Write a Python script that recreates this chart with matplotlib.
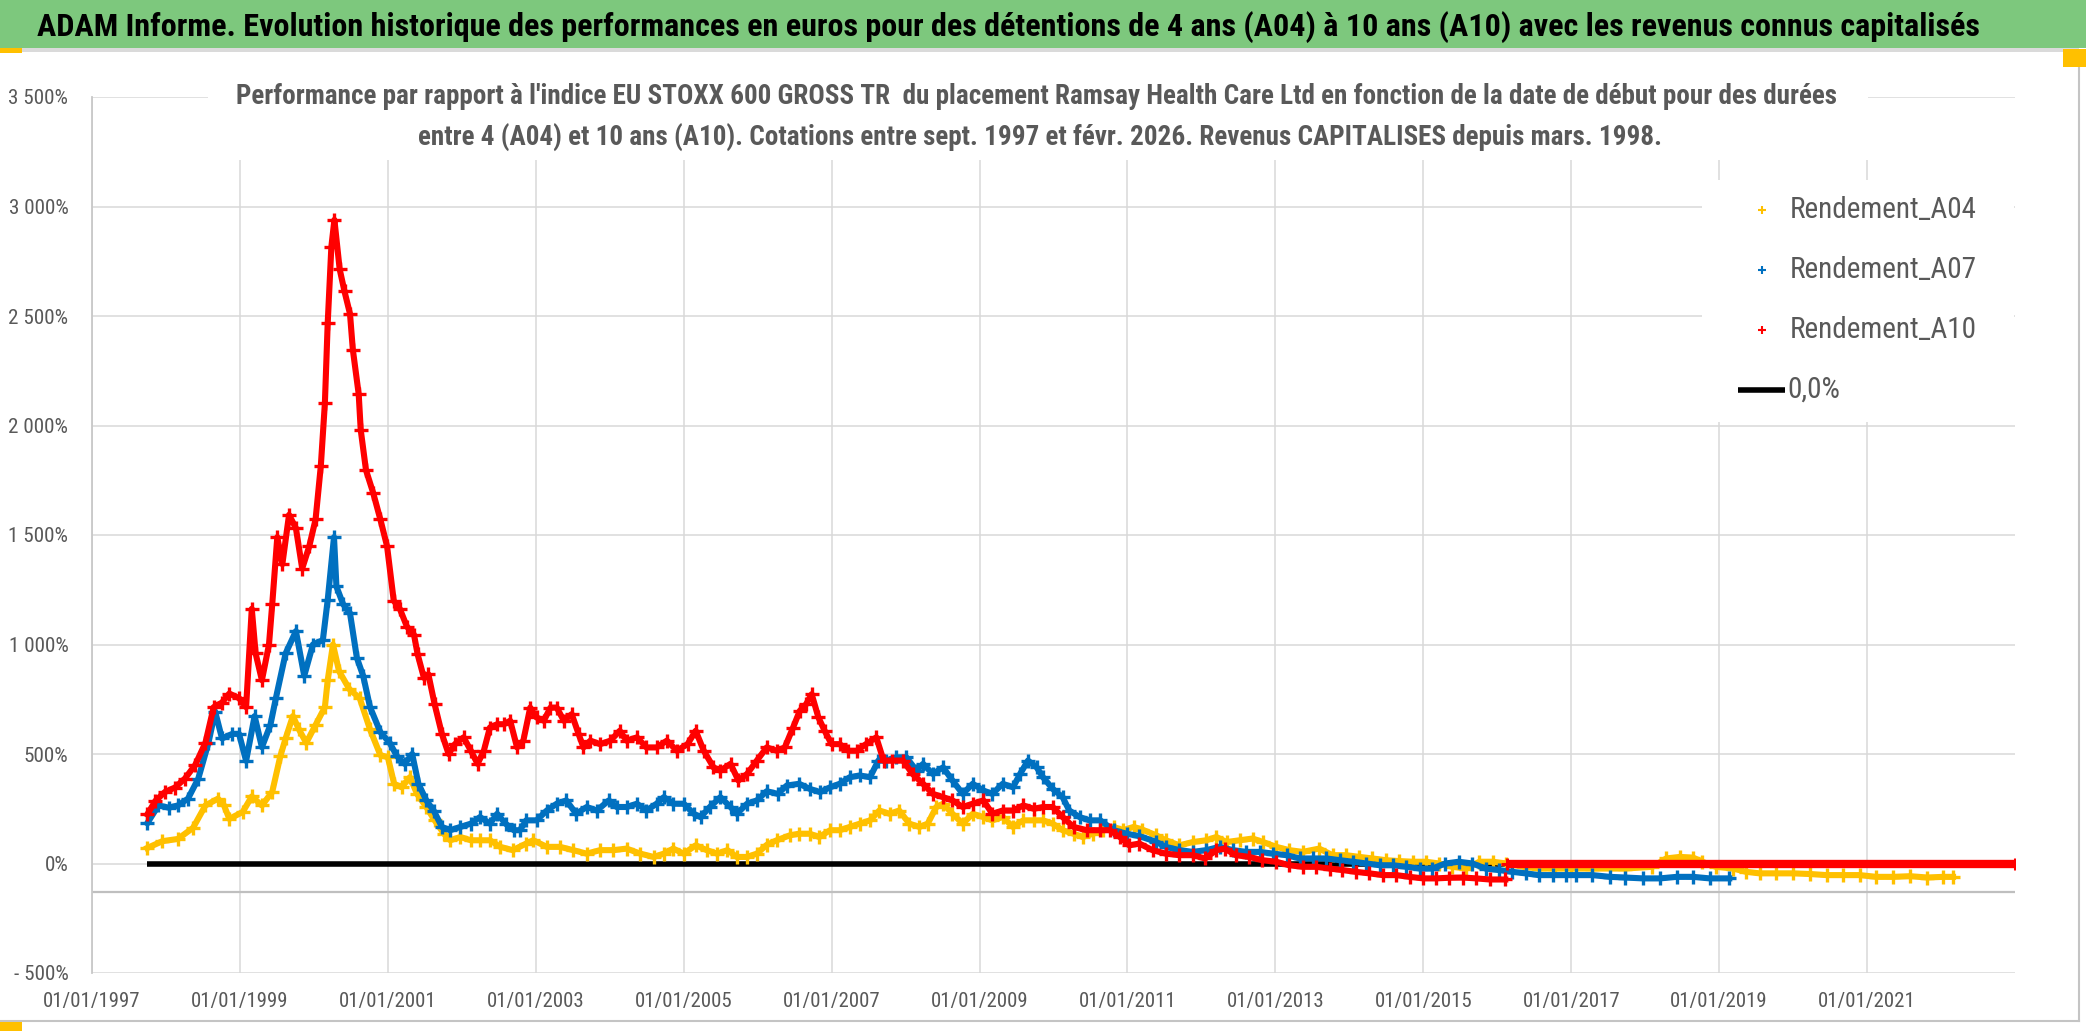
import matplotlib
matplotlib.use("Agg")
import matplotlib.pyplot as plt
from matplotlib.patches import Rectangle
from matplotlib.lines import Line2D
from matplotlib import font_manager
import pandas as pd

# ---------------- data ----------------
a04_dates = ["1997-10-01","1997-12-15","1998-03-01","1998-05-15","1998-07-15","1998-09-15","1998-10-15","1998-11-10",
"1999-01-15","1999-03-01","1999-04-20","1999-06-10","1999-07-20","1999-08-15","1999-09-20","1999-10-20","1999-11-25",
"2000-01-10","2000-02-25","2000-03-10","2000-04-05","2000-05-05","2000-06-25","2000-08-15","2000-10-05","2000-11-25",
"2001-01-01","2001-02-01","2001-03-10","2001-04-20","2001-05-25","2001-07-10","2001-08-20","2001-10-05","2001-11-05","2001-12-25",
"2002-02-15","2002-04-01","2002-05-20","2002-07-10","2002-09-10","2002-11-15","2002-12-20",
"2003-02-25","2003-05-01","2003-07-05","2003-09-10","2003-11-15",
"2004-01-20","2004-03-25","2004-06-01","2004-08-05","2004-09-25","2004-11-10",
"2005-01-01","2005-03-01","2005-04-25","2005-06-15","2005-08-05","2005-09-20","2005-11-10","2005-12-28",
"2006-02-15","2006-04-05","2006-06-10","2006-07-25","2006-09-15","2006-11-01","2006-12-25",
"2007-02-10","2007-04-01","2007-05-20","2007-07-10","2007-08-25","2007-10-15","2007-12-01",
"2008-01-20","2008-03-10","2008-04-20","2008-06-01","2008-07-05","2008-08-20","2008-10-10","2008-11-28",
"2009-01-20","2009-03-05","2009-04-25","2009-06-15","2009-08-05","2009-09-25","2009-11-10","2009-12-28",
"2010-02-15","2010-04-10","2010-05-25","2010-07-15","2010-09-01","2010-10-25","2010-12-10",
"2011-02-01","2011-03-15","2011-05-20","2011-07-10","2011-09-15","2011-11-20",
"2012-01-25","2012-03-15","2012-05-05","2012-07-10","2012-09-10","2012-11-01",
"2013-01-05","2013-03-10","2013-05-15","2013-08-05","2013-10-10","2013-12-15",
"2014-02-20","2014-04-25","2014-07-01","2014-09-05","2014-11-10",
"2015-01-15","2015-03-20","2015-05-25","2015-08-01","2015-10-05","2015-12-10",
"2016-02-15","2016-05-10","2016-07-25","2016-10-10",
"2017-01-01","2017-04-15","2017-09-25",
"2018-02-05","2018-04-15","2018-06-20","2018-08-25","2018-10-10","2018-12-15",
"2019-03-10","2019-05-15","2019-07-20","2019-10-10",
"2020-01-01","2020-03-25","2020-06-15","2020-09-05","2020-11-25",
"2021-02-15","2021-05-10","2021-08-01","2021-10-25",
"2022-01-10","2022-03-01"]
a04_values = [71,102,112,163,265,296,265,204,
235,306,265,327,490,571,673,612,551,
633,714,837,1000,878,796,755,612,495,
485,364,348,394,318,258,197,136,106,121,
106,106,106,76,61,91,106,
76,76,61,45,61,
61,68,45,30,45,68,
45,83,61,45,61,30,30,45,
85,106,129,136,136,121,152,
152,167,182,197,242,227,242,
182,167,182,258,273,227,182,227,
212,197,212,167,197,197,197,182,
152,136,121,136,152,167,152,
167,155,130,106,83,98,
106,121,98,106,114,98,
76,61,53,68,38,38,
30,23,15,11,8,
8,0,-15,-23,8,8,
0,-15,-23,-23,
-23,-23,-23,
-15,23,30,27,8,-15,
-23,-38,-45,-45,
-45,-48,-53,-53,-53,
-61,-61,-58,-64,
-61,-61]

a07_dates = ["1997-10-01","1997-11-25","1998-01-15","1998-03-01","1998-04-20","1998-06-10","1998-07-30","1998-09-01",
"1998-10-05","1998-11-25","1998-12-28","1999-02-01","1999-03-15","1999-04-20","1999-06-01","1999-06-28","1999-08-15",
"1999-10-05","1999-11-15","1999-12-28","2000-02-15","2000-03-10","2000-04-10","2000-04-22","2000-05-25","2000-06-28",
"2000-08-01","2000-09-01","2000-10-05","2000-11-25","2001-01-10","2001-02-15","2001-03-25","2001-05-01","2001-06-01",
"2001-07-10","2001-08-15","2001-09-25","2001-11-05","2001-12-25",
"2002-02-15","2002-04-01","2002-05-20","2002-06-25","2002-08-05","2002-09-15","2002-10-15","2002-11-15",
"2003-01-05","2003-02-25","2003-04-15","2003-06-01","2003-07-20","2003-09-10","2003-10-30","2003-12-28",
"2004-02-05","2004-03-25","2004-05-15","2004-07-01","2004-08-20","2004-09-25","2004-11-10",
"2005-01-01","2005-02-20","2005-03-25","2005-05-10","2005-07-01","2005-08-20","2005-09-20","2005-11-10","2005-12-28",
"2006-02-15","2006-04-10","2006-05-25","2006-07-25","2006-09-15","2006-11-05","2006-12-25",
"2007-02-10","2007-04-01","2007-05-20","2007-07-10","2007-08-20","2007-09-28","2007-11-15",
"2008-01-05","2008-02-25","2008-03-28","2008-05-15","2008-07-05","2008-08-20","2008-10-10","2008-11-28",
"2009-01-20","2009-03-05","2009-04-25","2009-06-15","2009-07-20","2009-08-28","2009-10-10","2009-11-10","2009-12-28",
"2010-02-15","2010-03-20","2010-05-10","2010-06-28","2010-08-20","2010-10-25","2010-12-28",
"2011-03-01","2011-05-20","2011-07-10","2011-09-15","2011-11-20",
"2012-01-25","2012-04-01","2012-06-05","2012-08-10","2012-10-15","2012-12-20",
"2013-02-25","2013-05-01","2013-07-05","2013-09-10","2013-11-15",
"2014-01-20","2014-03-25","2014-06-01","2014-08-05","2014-10-10","2014-12-15",
"2015-02-15","2015-04-20","2015-06-25","2015-09-01","2015-11-05",
"2016-01-10","2016-03-15","2016-05-20","2016-07-25","2016-10-01","2016-12-05",
"2017-01-25","2017-04-15","2017-07-10","2017-09-25","2017-12-20",
"2018-03-15","2018-06-05","2018-08-25","2018-11-15","2019-02-20"]
a07_values = [184,265,255,265,296,388,551,694,
571,592,592,469,673,531,633,755,959,
1061,857,1000,1020,1204,1490,1265,1184,1143,
939,857,714,600,551,490,455,500,364,
288,242,167,152,167,
182,212,182,227,182,152,152,197,
197,242,273,288,227,258,242,288,
258,258,273,242,273,303,273,
273,227,212,258,303,258,227,273,288,
330,318,356,364,341,326,348,
364,394,402,394,470,470,485,
485,424,455,409,439,379,318,364,
333,318,364,348,409,470,439,394,341,
303,242,212,197,197,152,136,
125,100,76,61,53,
61,76,61,53,53,45,
38,23,23,23,15,
8,0,-8,-8,-15,-23,
-23,0,8,0,-23,
-30,-38,-45,-53,-53,-53,
-53,-53,-61,-64,-68,
-68,-61,-61,-68,-68]

a10_dates = ["1997-10-01","1997-11-10","1997-12-28","1998-02-15","1998-04-05","1998-05-25","1998-07-15","1998-08-25",
"1998-10-05","1998-11-10","1998-12-28","1999-02-01","1999-03-01","1999-03-20","1999-04-20","1999-05-25","1999-06-10",
"1999-07-05","1999-07-30","1999-09-01","1999-10-05","1999-11-05","1999-12-10","2000-01-10","2000-02-05","2000-02-25",
"2000-03-10","2000-03-28","2000-04-12","2000-05-08","2000-06-01","2000-06-28","2000-07-12","2000-08-10","2000-08-20",
"2000-09-15","2000-10-20","2000-11-25","2000-12-28","2001-01-30","2001-03-01","2001-04-05","2001-05-10","2001-05-28",
"2001-06-28","2001-07-20","2001-08-20","2001-09-25","2001-10-28","2001-11-28",
"2002-01-10","2002-02-15","2002-03-20","2002-04-20","2002-05-20","2002-06-25","2002-07-28","2002-08-28","2002-10-01",
"2002-11-01","2002-12-05","2003-01-05","2003-02-10","2003-03-15","2003-04-15","2003-05-20","2003-06-28","2003-08-01",
"2003-08-25","2003-09-28","2003-11-15","2004-01-05","2004-02-20","2004-03-25","2004-05-15","2004-07-01","2004-08-20",
"2004-10-10","2004-11-28","2005-01-20","2005-03-01","2005-04-10","2005-05-28","2005-07-01","2005-08-20","2005-09-28",
"2005-11-10","2005-12-28","2006-02-15","2006-04-05","2006-05-15","2006-06-25","2006-07-28","2006-08-28","2006-09-25",
"2006-10-28","2006-11-28","2007-01-01","2007-02-10","2007-03-25","2007-05-05","2007-06-20","2007-08-10","2007-09-15",
"2007-10-28","2007-12-20","2008-02-05","2008-03-28","2008-05-15","2008-07-05","2008-08-20","2008-10-10","2008-11-28",
"2009-01-20","2009-03-05","2009-04-25","2009-06-15","2009-08-05","2009-09-25","2009-11-10","2009-12-28",
"2010-02-15","2010-04-10","2010-06-15","2010-08-20","2010-10-05","2010-11-25",
"2011-01-10","2011-03-01","2011-05-05","2011-07-10","2011-09-15","2011-11-20",
"2012-01-20","2012-03-15","2012-04-25","2012-06-20","2012-08-25","2012-10-28",
"2013-01-05","2013-03-10","2013-05-15","2013-07-20","2013-09-25","2013-11-28",
"2014-02-01","2014-04-10","2014-06-15","2014-08-20","2014-10-25",
"2015-01-01","2015-03-05","2015-05-10","2015-07-15","2015-09-20","2015-11-25","2016-02-10"]
a10_values = [224,286,327,347,388,449,551,714,
735,776,755,714,1163,959,837,1000,1184,
1490,1367,1592,1531,1347,1449,1571,1816,2102,
2469,2816,2939,2714,2612,2510,2347,2143,1980,
1796,1694,1571,1449,1200,1163,1082,1045,955,
848,864,727,591,500,545,
576,515,455,515,621,636,636,652,530,
561,712,667,652,712,712,652,682,591,
530,561,545,561,606,561,576,530,530,
561,515,545,606,515,439,424,455,379,
409,470,530,515,530,621,697,727,773,
667,606,545,545,515,515,545,576,470,
470,470,409,364,318,303,288,258,273,
288,227,242,242,265,250,258,258,
212,167,152,152,152,121,
83,91,61,45,38,38,
23,61,68,38,30,15,
8,-8,-15,-15,-23,-30,
-38,-45,-53,-53,-61,
-68,-68,-65,-64,-68,-73,-73]

# A10 is shown as 0 from Feb 2016 onward
a10_tail_dates = ["2016-02-20", "2023-01-01"]
a10_tail_values = [0, 0]

zero_dates = ["1997-10-01", "2023-01-01"]
zero_values = [0, 0]

series_names = ["Rendement_A04", "Rendement_A07", "Rendement_A10", "0,0%"]
x_tick_years = list(range(1997, 2022, 2))
y_ticks = list(range(-500, 3501, 500))

title_text = ("ADAM Informe. Evolution historique des performances en euros pour des détentions "
              "de 4 ans (A04) à 10 ans (A10) avec les revenus connus capitalisés")
subtitle_1 = ("Performance par rapport à l'indice EU STOXX 600 GROSS TR  du placement Ramsay Health Care Ltd "
              "en fonction de la date de début pour des durées")
subtitle_2 = ("entre 4 (A04) et 10 ans (A10). Cotations entre sept. 1997 et févr. 2026. "
              "Revenus CAPITALISES depuis mars. 1998.")

# ---------------- font choice ----------------
W, H, DPI = 2086, 1031, 100
entries = font_manager.fontManager.ttflist

def wnum(w):
    if isinstance(w, (int, float)):
        return int(w)
    return font_manager.weight_dict.get(str(w).lower(), 400)

cands = ["Noto Sans Condensed", "Roboto Condensed", "Liberation Sans Narrow", "Open Sans Condensed",
         "Noto Sans SemiCondensed", "Open Sans SemiCondensed", "Roboto", "DejaVu Sans"]

def pick(lo, hi):
    for c in cands:
        if any(f.name == c and lo <= wnum(f.weight) <= hi for f in entries):
            return c
    return "DejaVu Sans"

FAM_REG = pick(350, 450)
FAM_BOLD = pick(600, 800)
plt.rcParams["font.family"] = [FAM_REG, "DejaVu Sans"]

YEL, BLU, RED = "#FFC000", "#0070C0", "#FF0000"
GRID = "#D9D9D9"
TXT = "#595959"

fig = plt.figure(figsize=(W / DPI, H / DPI), dpi=DPI)
fig.patch.set_facecolor("white")

def fx(x):
    return x / W

def fy(y):
    return 1 - y / H

ax_l, ax_r, ax_t, ax_b = 92, 2015, 97, 973
ax = fig.add_axes([fx(ax_l), fy(ax_b), fx(ax_r - ax_l), (ax_b - ax_t) / H])
ax.set_facecolor("white")

d04 = pd.to_datetime(a04_dates)
d07 = pd.to_datetime(a07_dates)
d10 = pd.to_datetime(a10_dates)
dt10 = pd.to_datetime(a10_tail_dates)
dz = pd.to_datetime(zero_dates)

ax.plot(dz, zero_values, color="black", lw=4.0, zorder=3, solid_capstyle="butt")
ax.axhline(-132, color="#BFBFBF", lw=1.6, zorder=1)

kw = dict(marker="+", markersize=10.5, markeredgewidth=2.4, lw=4.4, zorder=4)
ax.plot(d04, a04_values, color=YEL, **kw)
ax.plot(d07, a07_values, color=BLU, **kw)
ax.plot(d10, a10_values, color=RED, **kw)
ax.plot(dt10, a10_tail_values, color=RED, lw=6.0, marker="+", markersize=9,
        markeredgewidth=2.2, zorder=5, solid_capstyle="butt")

ax.set_xlim(pd.Timestamp("1997-01-01"), pd.Timestamp("2023-01-01"))
ax.set_ylim(-500, 3500)

xt = [pd.Timestamp(f"{y}-01-01") for y in x_tick_years]
ax.set_xticks(xt)
ax.set_xticklabels([t.strftime("%d/%m/%Y") for t in xt])
ax.set_yticks(y_ticks)

def yfmt(v):
    s = f"{abs(v):,.0f}".replace(",", " ") + "%"
    return ("- " + s) if v < 0 else s

ax.set_yticklabels([yfmt(v) for v in y_ticks])
ax.tick_params(axis="both", length=0, colors=TXT)
ax.tick_params(axis="y", pad=17, labelsize=15)
ax.tick_params(axis="x", pad=14, labelsize=16)

ax.grid(True, color=GRID, lw=1.1, zorder=0)
ax.set_axisbelow(True)
for s in ["top", "right", "bottom"]:
    ax.spines[s].set_visible(False)
ax.spines["left"].set_color("#C8C8C8")
ax.spines["left"].set_linewidth(1.3)

# white boxes behind subtitle and legend (cover gridlines)
fig.add_artist(Rectangle((fx(208), fy(160)), fx(1868 - 208), (160 - 66) / H,
                         transform=fig.transFigure, facecolor="white", edgecolor="none", zorder=2))
fig.add_artist(Rectangle((fx(1702), fy(422)), fx(2014 - 1702), (422 - 180) / H,
                         transform=fig.transFigure, facecolor="white", edgecolor="none", zorder=2))

# title bar
fig.add_artist(Rectangle((0, fy(48)), 1, 48 / H, transform=fig.transFigure,
                         facecolor="#7DC87D", edgecolor="none", zorder=2))
fig.add_artist(Rectangle((0, fy(52)), fx(2079), 4 / H, transform=fig.transFigure,
                         facecolor="#DADADA", edgecolor="none", zorder=2))
t_title = fig.text(fx(1008), fy(27), title_text, ha="center", va="center", fontsize=21.5,
                   fontweight="bold", color="black", family=[FAM_BOLD, "DejaVu Sans"], zorder=5)

# frame lines and selection handles
fig.add_artist(Line2D([fx(2079), fx(2079)], [fy(52), fy(1021)], transform=fig.transFigure,
                      color="#C4C4C4", lw=1.5, zorder=2))
fig.add_artist(Line2D([0, fx(2079)], [fy(1021), fy(1021)], transform=fig.transFigure,
                      color="#C4C4C4", lw=1.5, zorder=2))
for (x0, y0, x1, y1) in [(0, 48, 22, 53), (2063, 49, 2086, 67), (0, 1022, 22, 1031)]:
    fig.add_artist(Rectangle((fx(x0), fy(y1)), fx(x1 - x0), (y1 - y0) / H, transform=fig.transFigure,
                             facecolor="#FFC000", edgecolor="none", zorder=3))

# subtitle
t_sub1 = fig.text(fx(1036), fy(96), subtitle_1, ha="center", va="center", fontsize=19.5,
                  fontweight="bold", color=TXT, family=[FAM_BOLD, "DejaVu Sans"], zorder=5)
t_sub2 = fig.text(fx(1040), fy(138), subtitle_2, ha="center", va="center", fontsize=19.5,
                  fontweight="bold", color=TXT, family=[FAM_BOLD, "DejaVu Sans"], zorder=5)

# legend (manual)
leg_y = [210, 270, 330, 390]
leg_texts = []
for name, col, yy in zip(series_names[:3], [YEL, BLU, RED], leg_y[:3]):
    fig.add_artist(Line2D([fx(1762)], [fy(yy)], transform=fig.transFigure, marker="+",
                          markersize=6, markeredgewidth=1.5, color=col, lw=0, zorder=5))
    leg_texts.append(fig.text(fx(1790), fy(yy), name, ha="left", va="center", fontsize=20,
                              color=TXT, fontweight="normal", zorder=5))
fig.add_artist(Line2D([fx(1738), fx(1785)], [fy(leg_y[3]), fy(leg_y[3])], transform=fig.transFigure,
                      color="black", lw=4.0, zorder=5, solid_capstyle="butt"))
leg_texts.append(fig.text(fx(1787), fy(leg_y[3]), series_names[3], ha="left", va="center",
                          fontsize=20, color=TXT, fontweight="normal", zorder=5))

# ---- fit text widths to the reference widths (pixels) ----
fig.canvas.draw()
rend = fig.canvas.get_renderer()

def fit(t, target, maxsize):
    w = t.get_window_extent(rend).width
    t.set_fontsize(min(maxsize, t.get_fontsize() * target / w))

fit(t_title, 1950, 24)
fit(t_sub1, 1655, 21)
fit(t_sub2, 1245, 21)
s12 = min(t_sub1.get_fontsize(), t_sub2.get_fontsize())
t_sub1.set_fontsize(s12)
t_sub2.set_fontsize(s12)
fit(leg_texts[0], 188, 21)
for t in leg_texts[1:]:
    t.set_fontsize(leg_texts[0].get_fontsize())

wx = ax.get_xticklabels()[0].get_window_extent(rend).width
wy = ax.get_yticklabels()[-1].get_window_extent(rend).width
ax.tick_params(axis="x", labelsize=min(17, 16 * 98 / wx))
ax.tick_params(axis="y", labelsize=min(16, 15 * 60 / wy))

fig.savefig("out.png", dpi=DPI, facecolor="white")
